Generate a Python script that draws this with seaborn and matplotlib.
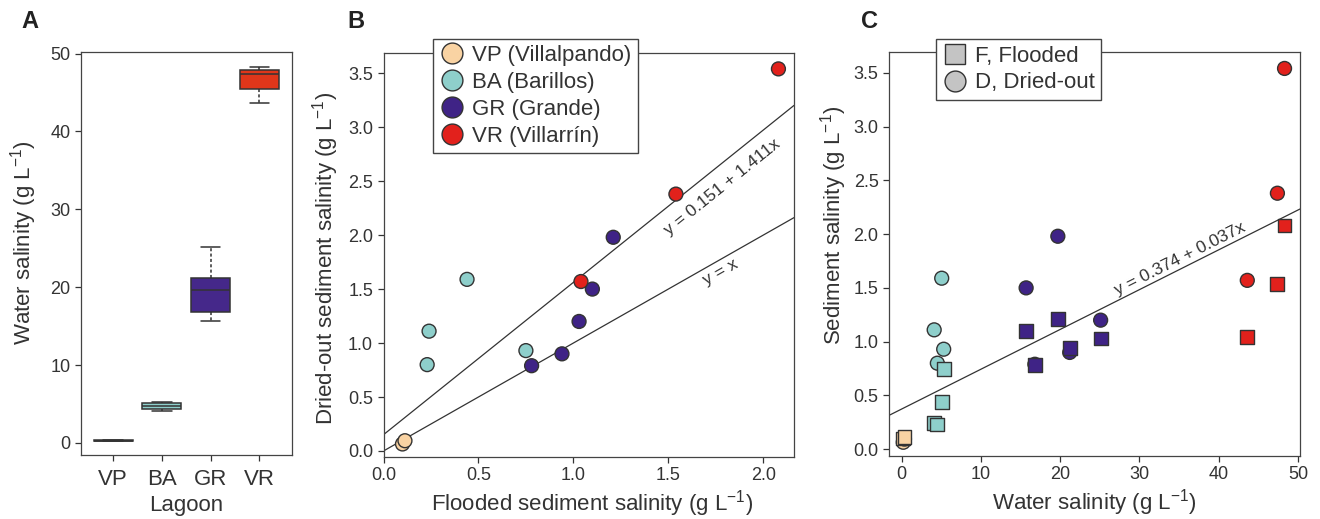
import numpy as np
import pandas as pd
import matplotlib
matplotlib.use("Agg")
import matplotlib.pyplot as plt
from matplotlib.lines import Line2D
import seaborn as sns

# ---- data ----
lagoon_codes = ["VP", "BA", "GR", "VR"]
lagoon_labels = ["VP (Villalpando)", "BA (Barillos)", "GR (Grande)", "VR (Villarrín)"]
lagoon_colors = ["#f9d3a3", "#8ecfcb", "#3f2386", "#e2211c"]
box_colors = ["#f9d3a3", "#8ecfcb", "#45288a", "#e0361a"]

sample_lagoon = ["VP"] * 2 + ["BA"] * 4 + ["GR"] * 5 + ["VR"] * 3
water_salinity = [0.2, 0.35,
                  4.1, 4.5, 5.05, 5.3,
                  15.7, 16.8, 19.7, 21.2, 25.1,
                  43.6, 47.4, 48.3]
flooded_salinity = [0.10, 0.113,
                    0.24, 0.23, 0.44, 0.75,
                    1.10, 0.78, 1.21, 0.94, 1.03,
                    1.04, 1.54, 2.08]
dried_salinity = [0.065, 0.095,
                  1.11, 0.80, 1.59, 0.93,
                  1.50, 0.79, 1.98, 0.90, 1.20,
                  1.57, 2.38, 3.54]

fit_b_intercept, fit_b_slope = 0.151, 1.411
fit_c_intercept, fit_c_slope = 0.374, 0.037

df = pd.DataFrame({"lagoon": sample_lagoon, "water": water_salinity,
                   "flooded": flooded_salinity, "dried": dried_salinity})
long_df = pd.concat([
    df.assign(state="D", sediment=df["dried"]),
    df.assign(state="F", sediment=df["flooded"]),
])

# ---- style ----
sns.set_theme(style="ticks")
dark = "#333333"
plt.rcParams["font.family"] = ["Liberation Sans", "DejaVu Sans"]
plt.rcParams["mathtext.default"] = "regular"
plt.rcParams.update({
    "text.color": dark, "axes.labelcolor": dark,
    "xtick.color": dark, "ytick.color": dark,
    "axes.edgecolor": "#444444", "axes.linewidth": 0.9,
    "xtick.major.size": 4, "ytick.major.size": 4,
    "xtick.major.width": 0.9, "ytick.major.width": 0.9,
    "xtick.labelsize": 13, "ytick.labelsize": 13,
    "axes.labelsize": 16,
})
unit = r" (g L$^{-1}$)"
pal = dict(zip(lagoon_codes, lagoon_colors))

fig = plt.figure(figsize=(13.2, 5.19), dpi=100)
W, H = 1320, 519


def px_axes(left, top, right, bottom):
    return fig.add_axes([left / W, 1 - bottom / H, (right - left) / W, (bottom - top) / H])


# ============ A: water salinity boxplot ============
ax_a = px_axes(81, 52, 292, 455)
sns.boxplot(data=df, x="lagoon", y="water", hue="lagoon", order=lagoon_codes,
            hue_order=lagoon_codes, palette=box_colors, saturation=1, legend=False,
            width=0.8, whis=(0, 100), linecolor=dark, linewidth=1.1, fliersize=0,
            whiskerprops=dict(linestyle=(0, (2, 1.5))), ax=ax_a)
ax_a.set_xlim(-0.66, 3.67)
ax_a.set_ylim(-1.55, 50.2)
ax_a.set_yticks(np.arange(0, 51, 10))
ax_a.tick_params(axis="x", labelsize=16, pad=6)
ax_a.set_ylabel("Water salinity" + unit)
ax_a.set_xlabel("Lagoon")
ax_a.yaxis.set_label_coords(-0.20, 0.526)
ax_a.xaxis.set_label_coords(0.5, -0.1)

# ============ B: flooded vs dried-out ============
ax_b = px_axes(383.5, 52.7, 794, 456.7)
ax_b.axline((0, fit_b_intercept), slope=fit_b_slope, color=dark, lw=0.9, zorder=1)
ax_b.axline((0, 0), slope=1, color=dark, lw=0.9, zorder=1)
sns.scatterplot(data=df, x="flooded", y="dried", hue="lagoon", hue_order=lagoon_codes,
                palette=pal, s=100, edgecolor=dark, linewidth=1, legend=False,
                zorder=3, ax=ax_b)
ax_b.set_xlim(0, 2.162)
ax_b.set_ylim(-0.053, 3.69)
ax_b.set_xticks(np.arange(0, 2.01, 0.5))
ax_b.set_yticks(np.arange(0, 3.51, 0.5))
ax_b.xaxis.set_major_formatter("{x:.1f}")
ax_b.yaxis.set_major_formatter("{x:.1f}")
ax_b.set_xlabel("Flooded sediment salinity" + unit)
ax_b.set_ylabel("Dried-out sediment salinity" + unit)
ax_b.yaxis.set_label_coords(-0.103, 0.492)
ax_b.xaxis.set_label_coords(0.508, -0.078)
ax_b.text(1.786, 2.447, "y = 0.151 + 1.411x", rotation=38.8, fontsize=12.5,
          ha="center", va="center", rotation_mode="anchor")
ax_b.text(1.776, 1.66, "y = x", rotation=29.6, fontsize=12.5,
          ha="center", va="center", rotation_mode="anchor")

handles_b = [Line2D([], [], ls="", marker="o", ms=15, mfc=c, mec=dark, mew=1)
             for c in lagoon_colors]
fig.legend(handles_b, lagoon_labels, loc="upper left",
           bbox_to_anchor=(432.7 / W, 1 - 39 / H), borderaxespad=0,
           fontsize=16, frameon=True, fancybox=False, framealpha=1,
           edgecolor="#444444", handletextpad=0.3, labelspacing=0.26,
           borderpad=0.28, handlelength=1.2)

# ============ C: water vs sediment ============
ax_c = px_axes(889, 52.3, 1300, 455.7)
ax_c.axline((0, fit_c_intercept), slope=fit_c_slope, color=dark, lw=0.9, zorder=1)
sns.scatterplot(data=long_df, x="water", y="sediment", hue="lagoon",
                hue_order=lagoon_codes, palette=pal, style="state",
                markers={"F": "s", "D": "o"}, s=100, edgecolor=dark, linewidth=1,
                legend=False, zorder=3, ax=ax_c)
ax_c.set_xlim(-1.6, 50.25)
ax_c.set_ylim(-0.06, 3.69)
ax_c.set_xticks(np.arange(0, 51, 10))
ax_c.set_yticks(np.arange(0, 3.51, 0.5))
ax_c.yaxis.set_major_formatter("{x:.1f}")
ax_c.set_xlabel("Water salinity" + unit)
ax_c.set_ylabel("Sediment salinity" + unit)
ax_c.yaxis.set_label_coords(-0.097, 0.571)
ax_c.xaxis.set_label_coords(0.499, -0.078)
ax_c.text(35.1, 1.77, "y = 0.374 + 0.037x", rotation=26.7, fontsize=12.5,
          ha="center", va="center", rotation_mode="anchor")

handles_c = [Line2D([], [], ls="", marker="s", ms=14, mfc="#c4c4c4", mec=dark, mew=1),
             Line2D([], [], ls="", marker="o", ms=15, mfc="#c4c4c4", mec=dark, mew=1)]
fig.legend(handles_c, ["F, Flooded", "D, Dried-out"], loc="upper left",
           bbox_to_anchor=(935.7 / W, 1 - 39.3 / H), borderaxespad=0,
           fontsize=16, frameon=True, fancybox=False, framealpha=1,
           edgecolor="#444444", handletextpad=0.3, labelspacing=0.26,
           borderpad=0.28, handlelength=1.2)

for ax in (ax_a, ax_b, ax_c):
    for sp in ax.spines.values():
        sp.set_visible(True)

for letter, xpix in (("A", 30), ("B", 356), ("C", 869)):
    fig.text(xpix / W, 1 - 22 / H, letter, fontsize=17, fontweight="bold",
             color="#222222", ha="center", va="center")

fig.savefig("out.png", dpi=100)
